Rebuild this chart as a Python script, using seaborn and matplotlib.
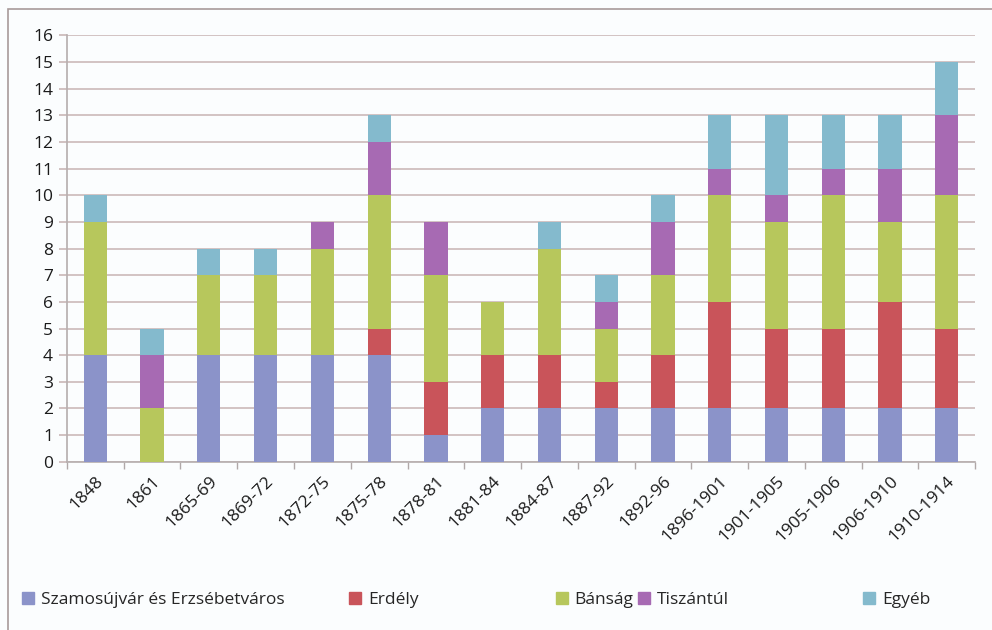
import numpy as np
import pandas as pd
import matplotlib
matplotlib.use("Agg")
import matplotlib.pyplot as plt
import matplotlib.patches as mpatches
import seaborn as sns

# data
periods = ["1848", "1861", "1865-69", "1869-72", "1872-75", "1875-78", "1878-81",
           "1881-84", "1884-87", "1887-92", "1892-96", "1896-1901", "1901-1905",
           "1905-1906", "1906-1910", "1910-1914"]
szamosujvar = [4, 0, 4, 4, 4, 4, 1, 2, 2, 2, 2, 2, 2, 2, 2, 2]
erdely = [0, 0, 0, 0, 0, 1, 2, 2, 2, 1, 2, 4, 3, 3, 4, 3]
bansag = [5, 2, 3, 3, 4, 5, 4, 2, 4, 2, 3, 4, 4, 5, 3, 5]
tiszantul = [0, 2, 0, 0, 1, 2, 2, 0, 0, 1, 2, 1, 1, 1, 2, 3]
egyeb = [1, 1, 1, 1, 0, 1, 0, 0, 1, 1, 1, 2, 3, 2, 2, 2]

series_names = ["Szamosújvár és Erzsébetváros", "Erdély", "Bánság", "Tiszántúl", "Egyéb"]
series_values = [szamosujvar, erdely, bansag, tiszantul, egyeb]
colors = ["#8b93c9", "#c9545a", "#b7c75c", "#a76ab3", "#84bacd"]

df = pd.DataFrame({"period": periods})
for name, vals in zip(series_names, series_values):
    df[name] = vals

sns.set_theme(style="white")
plt.rcParams["font.family"] = ["Open Sans", "DejaVu Sans"]

fig = plt.figure(figsize=(9.92, 6.3), dpi=100)
fig.patch.set_facecolor("#fbfdfe")
ax = fig.add_axes([0.0675, 0.267, 0.9155, 0.677])
ax.set_facecolor("#fbfdfe")

# stacked bars, one layer per region
bottom = np.zeros(len(periods))
for name, col in zip(series_names, colors):
    sns.barplot(data=df, x="period", y=name, color=col, width=0.41,
                bottom=bottom, ax=ax, saturation=1, label=name, zorder=3,
                linewidth=0, edgecolor=col)
    bottom = bottom + df[name].values

ax.set_ylim(0, 16)
ax.set_xlim(-0.5, len(periods) - 0.5)
ax.set_yticks(range(0, 17))
ax.set_xlabel("")
ax.set_ylabel("")
grid_col = "#cbb9b9"
ax.yaxis.grid(True, color=grid_col, linewidth=1.2, zorder=0)
ax.tick_params(axis="y", length=6, color=grid_col, labelsize=12.5, labelcolor="#1a1a1a", pad=4, left=True)
ax.set_xticks(range(len(periods)))
ax.set_xticklabels(periods, rotation=45, ha="right", rotation_mode="anchor", fontsize=12.5, color="#1a1a1a")
ax.set_xticks(np.arange(-0.5, len(periods)), minor=True)
ax.tick_params(axis="x", which="major", length=0, pad=8)
ax.tick_params(axis="x", which="minor", length=5, color="#b0a8a8", bottom=True)
for s in ["top", "right"]:
    ax.spines[s].set_visible(False)
ax.spines["left"].set_color("#b8b0b0")
ax.spines["bottom"].set_color("#b8b0b0")
if ax.get_legend() is not None:
    ax.get_legend().remove()

# legend along the bottom
handles = [mpatches.Patch(color=c, label=n) for n, c in zip(series_names, colors)]
xs = [0.022, 0.352, 0.56, 0.643, 0.87]
for h, x in zip(handles, xs):
    fig.legend(handles=[h], loc="center left", bbox_to_anchor=(x, 0.047), frameon=False,
               fontsize=12.5, handlelength=0.7, handleheight=0.7, handletextpad=0.4,
               borderpad=0, borderaxespad=0)

# outer frame of the chart
fig.patches.append(mpatches.Rectangle((0.008, -0.01), 1.0, 0.995, transform=fig.transFigure,
                                      fill=False, edgecolor="#a89a9a", linewidth=1.2))

fig.savefig("out.png", dpi=100)
